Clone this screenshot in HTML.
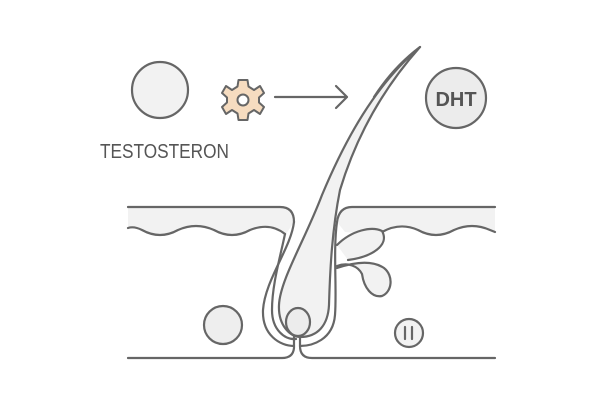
<!DOCTYPE html>
<html><head><style>body{margin:0;background:#fff}svg{display:block}</style></head><body>
<svg width="600" height="400" viewBox="0 0 600 400" xmlns="http://www.w3.org/2000/svg">
<g stroke="#666" stroke-width="2.2" fill="none" stroke-linecap="round" stroke-linejoin="round">
<path d="M128 207 H280 Q294 207 294 222 L286 234 Q270 222 250 230 Q232 240 214 230 Q196 222 178 230 Q160 240 142 230 Q134 226 128 228 Z" fill="#f2f2f2" stroke="none"/>
<path d="M128 207 H280 Q294 207 294 222"/>
<path d="M128 228 Q134 226 142 230 Q160 240 178 230 Q196 222 214 230 Q232 240 250 230 Q270 222 285 234"/>
<path d="M495 207 H352 Q339 207 337 222 L345 232 Q380 235 385 232 Q400 222 418 230 Q436 240 454 230 Q472 222 490 230 L495 232 Z" fill="#f2f2f2" stroke="none"/>
<path d="M495 207 H352 Q339 207 337 222"/>
<path d="M382 232 Q400 222 418 230 Q436 240 454 230 Q472 222 490 230 L495 232"/>
<path d="M294 222 C291 248 265 280 263 310 C262 335 280 346 294 346 L294 348 Q293 358 282 358 H128"/>
<path d="M285 234 C280 258 272 285 272 310 C272 330 285 340 296 339"/>
<path d="M337 222 C333 250 337 290 335 315 C333 340 312 346 300 346 Q300 358 312 358 H495"/>
<path d="M337 245 C352 230 372 226 382 231 C390 245 372 257 348 260" fill="#f2f2f2"/>
<path d="M337 266 C348 262 358 266 362 274 C364 288 372 298 382 296 C392 292 394 276 384 268 C372 260 355 262 337 268" fill="#f2f2f2"/>
<path d="M420 47 C375 85 345 140 322 195 C305 240 280 280 279 305 C278 325 290 337 300 337 C318 337 328 325 329 305 C330 270 332 230 340 190 C355 140 380 92 420 47 Z" fill="#f2f2f2"/>
<path d="M420 47 C400 62 385 80 374 97"/>
<ellipse cx="298" cy="322" rx="12" ry="14" fill="#ececec"/>
<path d="M294 346 L294 336 M300 346 L300 336"/>
<circle cx="223" cy="325" r="19" fill="#eee"/>
<circle cx="409" cy="333" r="14" fill="#f2f2f2"/>
<path d="M405 327 V339 M412 327 V339"/>
<circle cx="160" cy="90" r="28" fill="#f2f2f2"/>
<circle cx="456" cy="98" r="30" fill="#ececec"/>
<path d="M275 97 H347 M336 86 L347 97 L336 108"/>
</g>
<g transform="translate(243 100)" fill="#f6dcc0" stroke="#666" stroke-width="2">
<path d="M-4.5 -20 H4.5 L5.5 -13.5 L11 -10 L17 -14 L21 -7 L16 -2.5 V2.5 L21 7 L17 14 L11 10 L5.5 13.5 L4.5 20 H-4.5 L-5.5 13.5 L-11 10 L-17 14 L-21 7 L-16 2.5 V-2.5 L-21 -7 L-17 -14 L-11 -10 L-5.5 -13.5 Z" stroke-linejoin="round"/>
<circle r="5.5" fill="#fff"/>
</g>
<text x="456" y="106" font-family="Liberation Sans, sans-serif" font-size="20" font-weight="bold" fill="#555" text-anchor="middle">DHT</text>
<text x="100" y="158" font-family="Liberation Sans, sans-serif" font-size="20" fill="#555" textLength="129" lengthAdjust="spacingAndGlyphs">TESTOSTERON</text>
</svg>
</body></html>
